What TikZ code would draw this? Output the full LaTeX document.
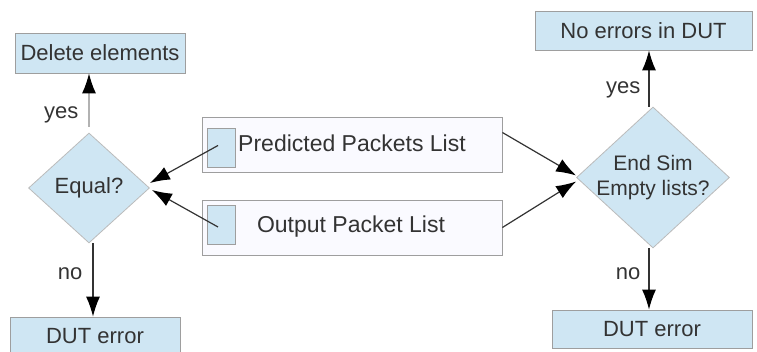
\documentclass[tikz,border=0pt]{standalone}
\usepackage{fontspec}
\setmainfont{Liberation Sans}
\usetikzlibrary{shapes.geometric,arrows.meta}

\definecolor{boxblue}{HTML}{CFE6F3}
\definecolor{boxline}{HTML}{9E9E9E}
\definecolor{txtgray}{HTML}{333333}

\tikzset{
  stepbox/.style={draw=boxline, fill=boxblue, rectangle, inner sep=0pt, text=txtgray},
  listbox/.style={draw=boxline, fill=blue!2, rectangle, inner sep=0pt,
                  minimum width=150pt, minimum height=27.5pt},
  slot/.style={draw=boxline, fill=boxblue, rectangle, inner sep=0pt,
               minimum width=14pt, minimum height=19.5pt},
  test/.style={draw=boxline!70, fill=boxblue, diamond, inner sep=0pt, text=txtgray},
  flow/.style={-{Latex[length=10pt,width=7pt,color=black]}, draw=black!80, line width=0.6pt},
  lbl/.style={text=txtgray, inner sep=1pt}
}

\begin{document}
\begin{tikzpicture}[x=0.5pt, y=-0.5pt]

  \fontsize{11}{13}\selectfont

  \useasboundingbox (0,0) rectangle (757,352);

  %% left side
  \node[stepbox, minimum width=85pt, minimum height=20pt] (del) at (100,53) {Delete elements};
  \node[test, minimum width=60.5pt, minimum height=55pt] (eq) at (89,188) {Equal?};
  \node[stepbox, minimum width=85pt, minimum height=19pt] (errl) at (95,336) {DUT error};

  %% the two lists
  \node[listbox] (pp) at (352,144.5) {};
  \node[slot] (pps) at (221,147.5) {};
  \node[text=txtgray, font=\fontsize{11.5}{13}\selectfont] at (352,143) {Predicted Packets List};

  \node[listbox] (op) at (352,227.5) {};
  \node[slot] (ops) at (221,225) {};
  \node[text=txtgray, font=\fontsize{11.5}{13}\selectfont] at (351,227) {Output Packet List};

  %% right side
  \node[stepbox, minimum width=108.5pt, minimum height=19.5pt] (ok) at (643.5,30.5) {No errors in DUT};
  \node[test, minimum width=76.5pt, minimum height=70.5pt,
        label={[align=center, text=txtgray, font=\fontsize{10.5}{12.5}\selectfont]center:End Sim\\Empty lists?}]
        (es) at (653,177.5) {};
  \node[stepbox, minimum width=100pt, minimum height=19pt] (errr) at (652,329) {DUT error};

  %% decisions
  \draw[flow, draw=black!30] ([yshift=3pt]eq.north) -- (eq.north |- del.south)
    node[lbl, pos=0.22, left=4pt] {yes};
  \draw[flow] ([xshift=2pt]eq.south) -- ([xshift=2pt]eq.south |- errl.north)
    node[lbl, pos=0.42, left=4pt] {no};

  \draw[flow] ([xshift=-2pt]es.north) -- ([xshift=-2pt]es.north |- ok.south)
    node[lbl, pos=0.3, left=3pt] {yes};
  \draw[flow] ([xshift=-2pt]es.south) -- ([xshift=-2pt]es.south |- errr.north)
    node[lbl, pos=0.42, left=3pt] {no};

  %% lists into the tests
  \draw[flow] ([xshift=-1.5pt,yshift=1pt]pps.center) -- ([yshift=2.5pt]eq.east);
  \draw[flow] ([xshift=-1.5pt,yshift=-1pt]ops.center) -- ([xshift=1pt,yshift=-1pt]eq.east);

  \draw[flow] ([yshift=6pt]pp.east) -- ([yshift=1pt]es.west);
  \draw[flow] (op.east) -- ([yshift=-2pt]es.west);

\end{tikzpicture}
\end{document}
